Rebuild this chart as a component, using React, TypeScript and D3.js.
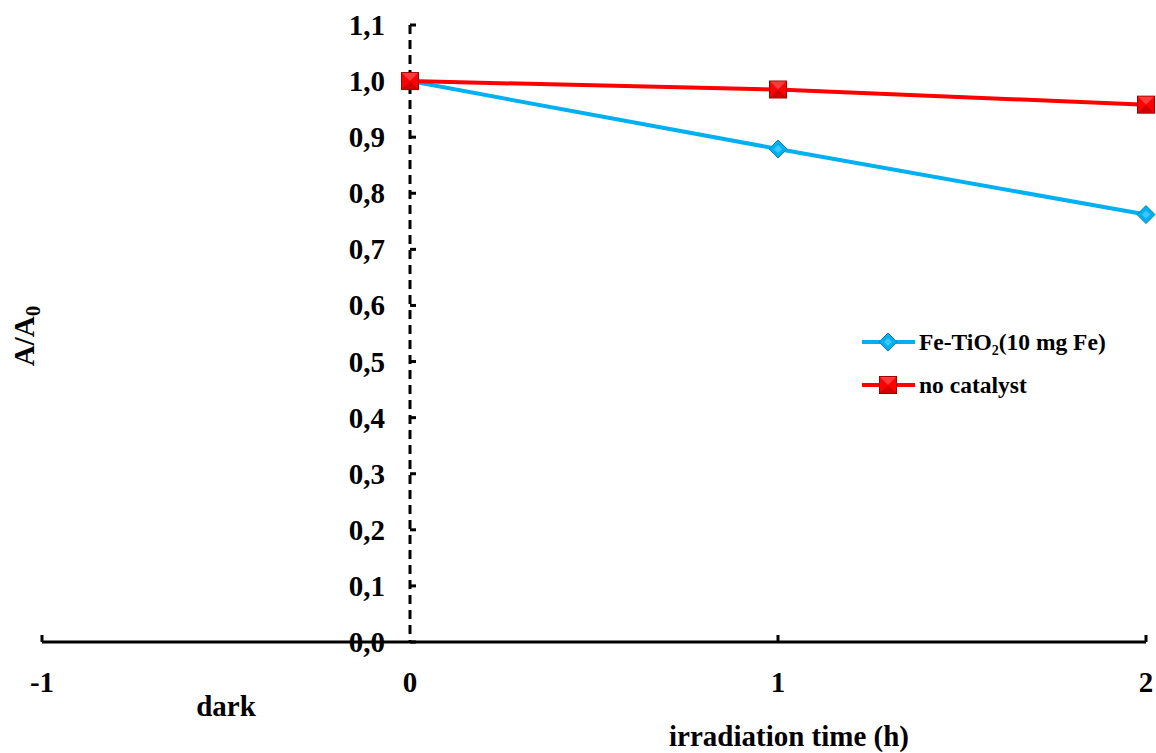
import React from "react";
import * as d3 from "d3";

const hours = [0, 1, 2];
const feTiO2 = [1.0, 0.879, 0.762];
const noCatalyst = [1.0, 0.985, 0.958];
const yTicks = [0, 0.1, 0.2, 0.3, 0.4, 0.5, 0.6, 0.7, 0.8, 0.9, 1.0, 1.1];
const xTicks = [-1, 0, 1, 2];
const seriesNames = ["Fe-TiO\u2082(10 mg Fe)", "no catalyst"];

const W = 1156;
const H = 753;
const FONT = "'Liberation Serif', 'Times New Roman', serif";

export default function App() {
  const x = d3.scaleLinear().domain([-1, 2]).range([42, 1146]);
  const y = d3.scaleLinear().domain([0, 1.1]).range([642, 25]);
  const line = d3
    .line<number>()
    .x((_, i) => x(hours[i]))
    .y((d) => y(d));
  const fmt = (v: number) => v.toFixed(1).replace(".", ",");
  const blue = "#00b0f0";
  const red = "#ff0000";

  const diamond = (cx: number, cy: number, key: string) => (
    <g key={key}>
      <path
        d={`M${cx},${cy - 9}L${cx + 9},${cy}L${cx},${cy + 9}L${cx - 9},${cy}Z`}
        fill={blue}
        stroke="#0a7fb0"
        strokeWidth={1}
      />
      <path d={`M${cx - 4},${cy}L${cx},${cy - 4}L${cx + 4},${cy}L${cx},${cy + 4}Z`} fill="#3cc8ff" />
    </g>
  );
  const square = (cx: number, cy: number, key: string) => (
    <g key={key}>
      <rect x={cx - 8.5} y={cy - 8.5} width={17} height={17} fill={red} stroke="#a00000" strokeWidth={1} />
      <path d={`M${cx - 8},${cy - 8}L${cx},${cy}L${cx + 8},${cy - 8}Z`} fill="#ff3a3a" />
      <path d={`M${cx - 8},${cy + 8}L${cx},${cy}L${cx + 8},${cy + 8}Z`} fill="#d00000" />
    </g>
  );

  return (
    <svg width={W} height={H} style={{ position: "absolute", left: 0, top: 0 }} fontFamily={FONT}>
      <rect width={W} height={H} fill="#fff" />
      {/* x axis */}
      <line x1={x(-1)} x2={x(2)} y1={y(0)} y2={y(0)} stroke="#000" strokeWidth={3} />
      {xTicks.map((t) => (
        <g key={`xt${t}`}>
          {t !== 0 && <line x1={x(t)} x2={x(t)} y1={y(0)} y2={y(0) - 7} stroke="#000" strokeWidth={3} />}
          <text x={x(t)} y={692} textAnchor="middle" fontSize={29} fontWeight="bold">
            {t}
          </text>
        </g>
      ))}
      {/* y axis dashed */}
      <line
        x1={x(0)}
        x2={x(0)}
        y1={y(1.1)}
        y2={y(0)}
        stroke="#000"
        strokeWidth={3}
        strokeDasharray="9,6"
      />
      {yTicks.map((t) => (
        <g key={`yt${t}`}>
          <line x1={x(0)} x2={x(0) + 6} y1={y(t)} y2={y(t)} stroke="#000" strokeWidth={3} />
          <text x={385} y={y(t) + 10} textAnchor="end" fontSize={29} fontWeight="bold">
            {fmt(t)}
          </text>
        </g>
      ))}
      {/* series */}
      <path d={line(feTiO2) || ""} fill="none" stroke={blue} strokeWidth={4} />
      <path d={line(noCatalyst) || ""} fill="none" stroke={red} strokeWidth={4} />
      {feTiO2.map((v, i) => diamond(x(hours[i]), y(v), `d${i}`))}
      {noCatalyst.map((v, i) => square(x(hours[i]), y(v), `s${i}`))}
      {/* axis titles */}
      <text x={226} y={716} textAnchor="middle" fontSize={29} fontWeight="bold">
        dark
      </text>
      <text x={789} y={746} textAnchor="middle" fontSize={29} fontWeight="bold">
        irradiation time (h)
      </text>
      <text transform="translate(34,336) rotate(-90)" textAnchor="middle" fontSize={29} fontWeight="bold">
        A/A<tspan fontSize={21} dy={6}>0</tspan>
      </text>
      {/* legend */}
      <line x1={862} x2={915} y1={342} y2={342} stroke={blue} strokeWidth={4} />
      {diamond(888, 342, "ld")}
      <text x={919} y={350} fontSize={23.5} fontWeight="bold">
        {seriesNames[0]}
      </text>
      <line x1={862} x2={915} y1={385} y2={385} stroke={red} strokeWidth={4} />
      {square(888, 385, "ls")}
      <text x={919} y={393} fontSize={23.5} fontWeight="bold">
        {seriesNames[1]}
      </text>
    </svg>
  );
}
